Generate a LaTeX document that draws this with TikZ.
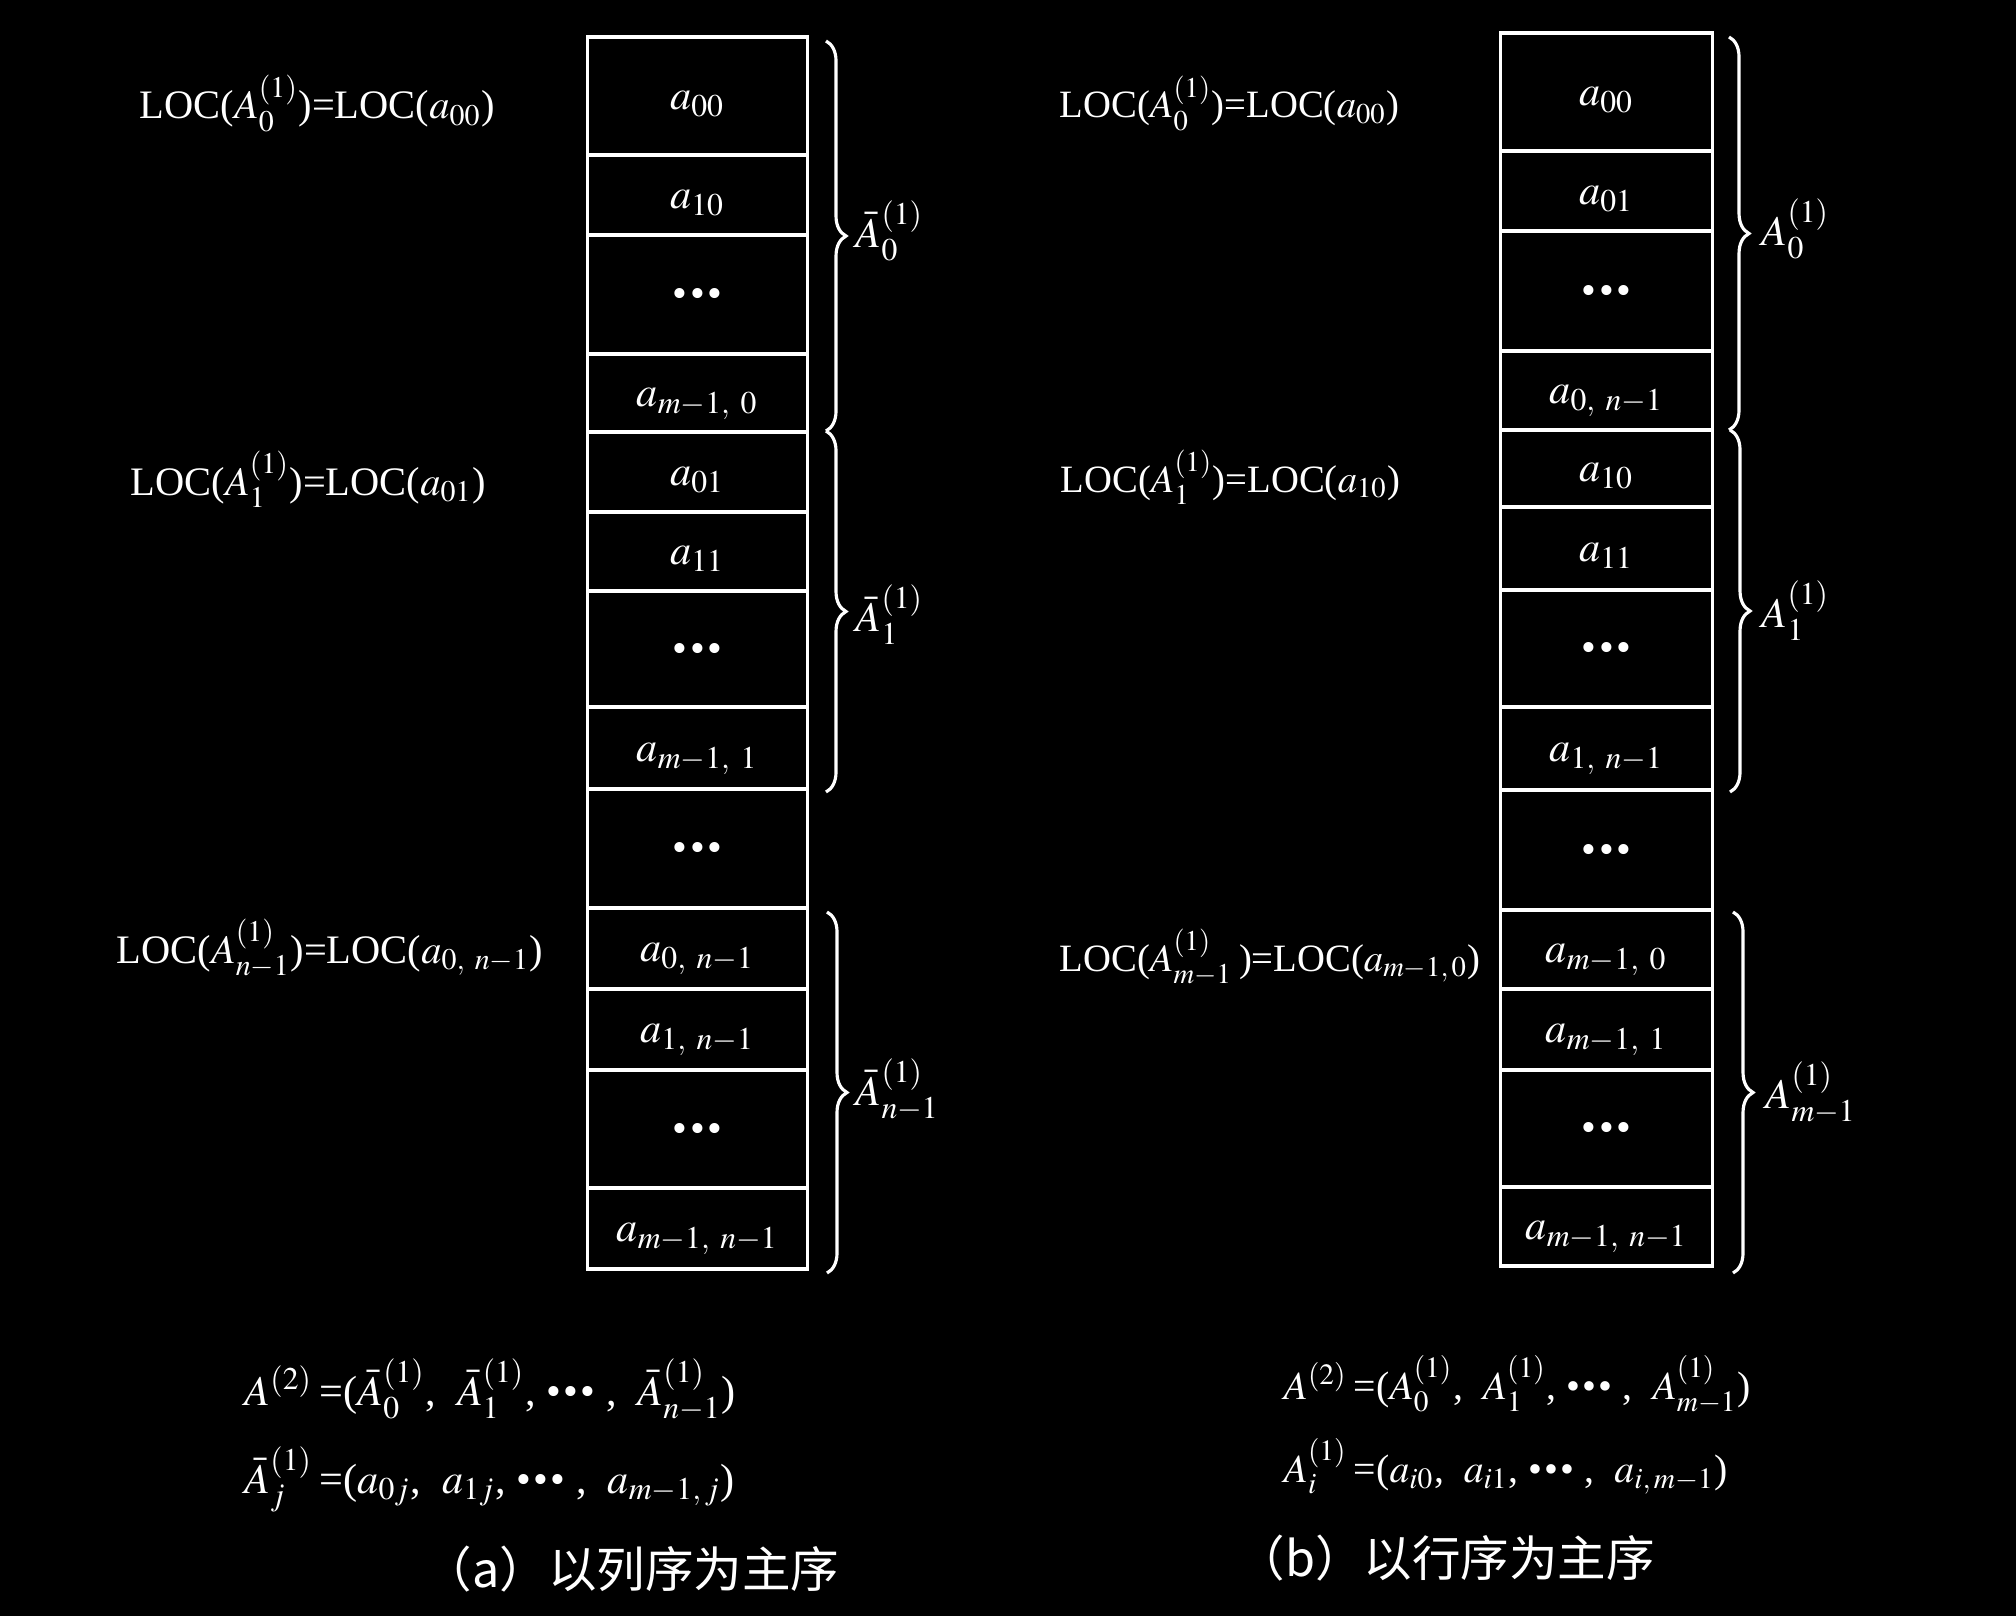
\documentclass[tikz,border=0pt]{standalone}
\usepackage{mathptmx}
\usepackage[no-math]{fontspec}
\setmainfont{Liberation Serif}
\newfontfamily\cjk{Noto Sans CJK SC}
\usetikzlibrary{decorations.pathreplacing}
\newcommand\bdots{\mbox{\normalfont\textbullet\kern0.06em\textbullet\kern0.06em\textbullet}}
\newcommand\mo{{-}}
\begin{document}
\begin{tikzpicture}[x=0.01cm,y=-0.01cm,
  every node/.style={text=white, font=\fontsize{12}{14}\selectfont},
  cell/.style={draw=white, line width=1.05pt, minimum width=2.2cm, inner sep=0pt, text height=7.6pt, text depth=0pt},
  rcell/.style={cell, minimum width=2.12cm},
  brc/.style={draw=white, line width=0.9pt, decorate, decoration={brace, amplitude=0.2cm}},
  lbl/.style={anchor=west, inner sep=0pt},
  frm/.style={anchor=base west, inner sep=0pt},
  rfrm/.style={frm, font=\fontsize{11.3}{14}\selectfont},
  locl/.style={frm, font=\fontsize{11.5}{14}\selectfont},
  locr/.style={frm, font=\fontsize{11}{14}\selectfont},
  captxt/.style={anchor=west, inner sep=0pt, font=\cjk\fontsize{13.8}{16}\selectfont}]
\fill[black] (0,0) rectangle (2016,1616);
\useasboundingbox (0,0) rectangle (2016,1616);

% left column
\node[cell, minimum height=1.18cm] (l1) at (697.5,96) {$a_{00}$};
\node[cell, minimum height=0.80cm] (l2) at (697.5,195) {$a_{10}$};
\node[cell, minimum height=1.19cm] (l3) at (697.5,294.5) {\bdots};
\node[cell, minimum height=0.78cm] (l4) at (697.5,393) {$a_{m\mo 1,\ 0}$};
\node[cell, minimum height=0.80cm] (l5) at (697.5,472) {$a_{01}$};
\node[cell, minimum height=0.79cm] (l6) at (697.5,551.5) {$a_{11}$};
\node[cell, minimum height=1.16cm] (l7) at (697.5,649) {\bdots};
\node[cell, minimum height=0.82cm] (l8) at (697.5,748) {$a_{m\mo 1,\ 1}$};
\node[cell, minimum height=1.19cm] (l9) at (697.5,848.5) {\bdots};
\node[cell, minimum height=0.81cm] (l10) at (697.5,948.5) {$a_{0,\ n\mo 1}$};
\node[cell, minimum height=0.81cm] (l11) at (697.5,1029.5) {$a_{1,\ n\mo 1}$};
\node[cell, minimum height=1.18cm] (l12) at (697.5,1129) {\bdots};
\node[cell, minimum height=0.81cm] (l13) at (697.5,1228.5) {$a_{m\mo 1,\ n\mo 1}$};

% right column
\node[rcell, minimum height=1.18cm] (r1) at (1606.5,92) {$a_{00}$};
\node[rcell, minimum height=0.80cm] (r2) at (1606.5,191) {$a_{01}$};
\node[rcell, minimum height=1.20cm] (r3) at (1606.5,291) {\bdots};
\node[rcell, minimum height=0.79cm] (r4) at (1606.5,390.5) {$a_{0,\ n\mo 1}$};
\node[rcell, minimum height=0.77cm] (r5) at (1606.5,468.5) {$a_{10}$};
\node[rcell, minimum height=0.83cm] (r6) at (1606.5,548.5) {$a_{11}$};
\node[rcell, minimum height=1.17cm] (r7) at (1606.5,648.5) {\bdots};
\node[rcell, minimum height=0.83cm] (r8) at (1606.5,748.5) {$a_{1,\ n\mo 1}$};
\node[rcell, minimum height=1.20cm] (r9) at (1606.5,850) {\bdots};
\node[rcell, minimum height=0.79cm] (r10) at (1606.5,949.5) {$a_{m\mo 1,\ 0}$};
\node[rcell, minimum height=0.81cm] (r11) at (1606.5,1029.5) {$a_{m\mo 1,\ 1}$};
\node[rcell, minimum height=1.17cm] (r12) at (1606.5,1128.5) {\bdots};
\node[rcell, minimum height=0.79cm] (r13) at (1606.5,1226.5) {$a_{m\mo 1,\ n\mo 1}$};

% braces
\coordinate (lb1t) at (826,41);   \coordinate (lb1b) at (826,431);
\coordinate (lb2t) at (826,431);  \coordinate (lb2b) at (826,792);
\coordinate (lb3t) at (827,912);  \coordinate (lb3b) at (827,1273);
\coordinate (rb1t) at (1729,37);  \coordinate (rb1b) at (1729,430);
\coordinate (rb2t) at (1730,430); \coordinate (rb2b) at (1730,792);
\coordinate (rb3t) at (1733,912); \coordinate (rb3b) at (1733,1273);
\draw[brc] (lb1t) -- (lb1b);
\draw[brc] (lb2t) -- (lb2b);
\draw[brc] (lb3t) -- (lb3b);
\draw[brc] (rb1t) -- (rb1b);
\draw[brc] (rb2t) -- (rb2b);
\draw[brc] (rb3t) -- (rb3b);

% brace labels
\node[lbl] (la0) at (855,231) {$\bar{A}^{(1)}_{0}$};
\node[lbl] (la1) at (855,615) {$\bar{A}^{(1)}_{1}$};
\node[lbl] (la2) at (855,1090) {$\bar{A}^{(1)}_{n\mo 1}$};
\node[lbl] (ra0) at (1761,229) {$A^{(1)}_{0}$};
\node[lbl] (ra1) at (1761,611) {$A^{(1)}_{1}$};
\node[lbl] (ra2) at (1765,1093) {$A^{(1)}_{m\mo 1}$};

% LOC labels
\node[locl] (loc1) at (139,119) {LOC($A^{(1)}_{0}$)=LOC($a_{00}$)};
\node[locl] (loc2) at (130,495) {LOC($A^{(1)}_{1}$)=LOC($a_{01}$)};
\node[locl] (loc3) at (116,963) {LOC($A^{(1)}_{n\mo 1}$)=LOC($a_{0,\ n\mo 1}$)};
\node[locr] (loc4) at (1059,118) {LOC($A^{(1)}_{0}$)=LOC($a_{00}$)};
\node[locr] (loc5) at (1060,492) {LOC($A^{(1)}_{1}$)=LOC($a_{10}$)};
\node[locr] (loc6) at (1059,971) {LOC($A^{(1)}_{m\mo 1}$\,)=LOC($a_{m\mo 1,\,0}$)};

% formulas
\node[frm] (fl1) at (244,1405) {$A^{(2)}$\,=($\bar{A}^{(1)}_{0}$,\enspace $\bar{A}^{(1)}_{1}$, \bdots\ ,\enspace $\bar{A}^{(1)}_{n\mo 1}$)};
\node[frm] (fl2) at (244,1493) {$\bar{A}^{(1)}_{j}$\,=($a_{0j}$,\enspace $a_{1j}$, \bdots\ ,\enspace $a_{m\mo 1,\,j}$)};
\node[rfrm] (fr1) at (1283,1399) {$A^{(2)}$\,=($A^{(1)}_{0}$,\enspace $A^{(1)}_{1}$, \bdots\ ,\enspace $A^{(1)}_{m\mo 1}$)};
\node[rfrm] (fr2) at (1283,1482) {$A^{(1)}_{i}$\,=($a_{i0}$,\enspace $a_{i1}$, \bdots\ ,\enspace $a_{i,\,m\mo 1}$)};

% captions
\node[captxt] (capa) at (423,1569) {（a）以列序为主序};
\node[captxt] (capb) at (1236,1558) {（b）以行序为主序};
\end{tikzpicture}
\end{document}
